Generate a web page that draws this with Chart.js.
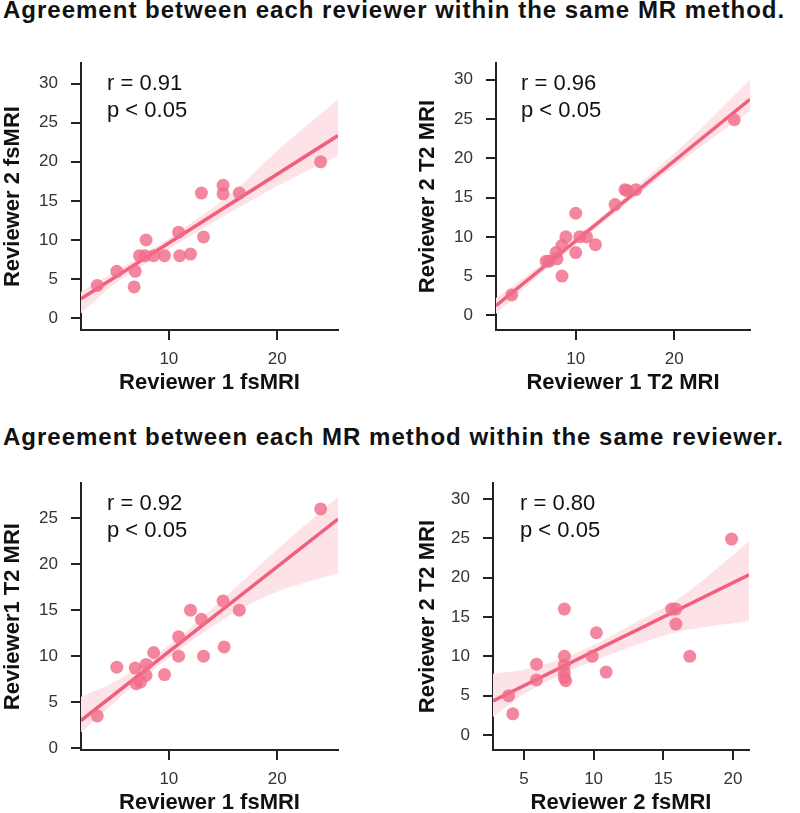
<!DOCTYPE html>
<html>
<head>
<meta charset="utf-8">
<script src="https://cdn.jsdelivr.net/npm/chart.js@4.4.1/dist/chart.umd.min.js"></script>
<style>
  html, body { margin: 0; padding: 0; background: #fff; overflow: hidden; }
  body { width: 800px; height: 813px; position: relative; }
  .title {
    position: absolute; left: 3px; margin: 0;
    font: bold 24px "Liberation Sans", Arial, sans-serif;
    letter-spacing: 1px;
    line-height: 1; color: #111; white-space: nowrap;
  }
  canvas { position: absolute; }
</style>
</head>
<body>
<div class="title" style="top:-2px">Agreement between each reviewer within the same MR method.</div>
<div class="title" style="top:425px">Agreement between each MR method within the same reviewer.</div>
<canvas id="c1" width="400" height="370" style="left:0px;top:40px"></canvas>
<canvas id="c2" width="400" height="370" style="left:400px;top:40px"></canvas>
<canvas id="c3" width="400" height="370" style="left:0px;top:460px"></canvas>
<canvas id="c4" width="400" height="370" style="left:400px;top:460px"></canvas>
<script>
// Panel 1: Reviewer 1 fsMRI vs Reviewer 2 fsMRI
const p1X = [3.4, 5.2, 6.9, 6.8, 7.3, 7.8, 7.9, 8.6, 9.6, 10.9, 11.0, 12.0, 13.0, 13.2, 15.0, 15.0, 16.5, 24.0];
const p1Y = [4.2, 6.0, 6.0, 4.0, 8.0, 8.0, 10.0, 8.0, 8.0, 11.0, 8.0, 8.2, 16.0, 10.4, 17.0, 15.9, 16.0, 20.0];
const fit1X = [1.9, 25.6];
const fit1Y = [2.5, 23.35];
const band1X = [1.9, 5, 9, 12, 16, 20, 25.6];
const band1Lo = [0.6, 4.4, 7.9, 10.5, 13.8, 16.9, 20.8];
const band1Hi = [3.4, 5.9, 9.3, 12.1, 16.2, 21.4, 28.0];

// Panel 2: Reviewer 1 T2 MRI vs Reviewer 2 T2 MRI
const p2X = [3.5, 7.0, 7.3, 8.0, 8.1, 8.6, 8.6, 9.0, 10.0, 10.0, 10.4, 11.1, 12.0, 14.0, 15.0, 15.2, 16.1, 26.1];
const p2Y = [2.6, 6.9, 6.9, 8.0, 7.2, 5.0, 8.9, 10.0, 13.0, 8.0, 10.0, 10.0, 9.0, 14.1, 16.0, 15.9, 16.0, 24.9];
const fit2X = [1.9, 27.7];
const fit2Y = [1.24, 27.5];
const band2X = [1.9, 6, 10, 14, 18, 22, 27.7];
const band2Lo = [0.2, 4.8, 9.0, 13.1, 17.0, 20.8, 26.0];
const band2Hi = [2.2, 6.0, 10.0, 14.0, 18.4, 22.9, 30.0];

// Panel 3: Reviewer 1 fsMRI vs Reviewer1 T2 MRI
const p3X = [3.4, 5.2, 6.9, 7.0, 7.4, 7.9, 7.9, 8.6, 9.6, 10.9, 10.9, 12.0, 13.0, 13.2, 15.0, 15.1, 16.5, 24.0];
const p3Y = [3.5, 8.8, 8.7, 7.0, 7.2, 7.9, 9.1, 10.4, 8.0, 12.1, 10.0, 15.0, 14.0, 10.0, 16.0, 11.0, 15.0, 26.0];
const fit3X = [1.9, 25.6];
const fit3Y = [3.0, 24.9];
const band3X = [1.9, 5, 9, 12, 16, 20, 25.6];
const band3Lo = [1.7, 5.0, 8.9, 11.6, 14.7, 17.0, 19.0];
const band3Hi = [5.6, 7.2, 10.3, 13.1, 17.3, 21.6, 27.3];

// Panel 4: Reviewer 2 fsMRI vs Reviewer 2 T2 MRI
const p4X = [3.9, 4.2, 5.9, 5.9, 7.9, 7.9, 7.9, 7.9, 7.9, 8.0, 9.9, 10.2, 10.9, 15.6, 15.9, 15.9, 16.9, 19.9];
const p4Y = [5.0, 2.7, 9.0, 7.0, 16.0, 10.0, 8.9, 7.9, 7.3, 6.9, 10.0, 13.0, 8.0, 16.0, 16.0, 14.1, 10.0, 24.9];
const fit4X = [2.78, 21.15];
const fit4Y = [4.32, 20.37];
const band4X = [2.78, 5, 8, 10, 13, 16, 21.15];
const band4Lo = [2.3, 5.2, 7.9, 9.4, 11.4, 13.1, 14.5];
const band4Hi = [7.8, 8.3, 9.9, 11.4, 14.3, 17.2, 24.6];

// tick labels
const ticks30 = [0, 5, 10, 15, 20, 25, 30];
const ticks25 = [0, 5, 10, 15, 20, 25];
const ticks1020 = [10, 20];
const ticks5to20 = [5, 10, 15, 20];

const pointColor = 'rgba(240, 108, 138, 0.82)';
const lineColor = '#f0607c';
const bandColor = '#fde2e7';
const axisColor = '#222';
const font = '"Liberation Sans", Arial, sans-serif';

const zip = (xs, ys) => xs.map((x, i) => ({ x: x, y: ys[i] }));

const statText = {
  id: 'statText',
  afterDraw(chart, args, opts) {
    const { ctx, chartArea } = chart;
    ctx.save();
    ctx.font = '22px ' + font;
    ctx.fillStyle = '#111';
    ctx.textBaseline = 'middle';
    opts.lines.forEach((t, i) => {
      ctx.fillText(t, chartArea.left + opts.dx, chartArea.top + 21 + i * 27);
    });
    ctx.restore();
  }
};

function makeAxis(title, min, max, tickValues, isY, boxSize) {
  return {
    type: 'linear',
    min: min,
    max: max,
    afterBuildTicks: (scale) => { scale.ticks = tickValues.map(v => ({ value: v })); },
    afterFit: (scale) => { if (isY) scale.width = boxSize; else scale.height = boxSize; },
    border: { display: true, color: axisColor, width: 2 },
    grid: { display: true, drawOnChartArea: false, drawTicks: true, tickLength: 10, color: axisColor, lineWidth: 2 },
    ticks: {
      color: '#333',
      font: { family: font, size: 17 },
      padding: isY ? 13 : 9,
      maxRotation: 0
    },
    title: {
      display: true,
      text: title,
      color: '#111',
      font: { family: font, size: 22, weight: 'bold' },
      padding: isY ? { top: 0, bottom: 0 } : { top: 0, bottom: 14 }
    }
  };
}

function makePanel(canvasId, p) {
  const ctx = document.getElementById(canvasId).getContext('2d');
  new Chart(ctx, {
    type: 'scatter',
    data: {
      datasets: [
        // lower order is drawn on top
        { type: 'line', order: 4, data: zip(p.bandX, p.bandLo), borderWidth: 0, pointRadius: 0, fill: false, cubicInterpolationMode: 'monotone' },
        { type: 'line', order: 3, data: zip(p.bandX, p.bandHi), borderWidth: 0, pointRadius: 0, fill: '-1', backgroundColor: bandColor, cubicInterpolationMode: 'monotone' },
        { type: 'line', order: 2, data: zip(p.fitX, p.fitY), borderColor: lineColor, borderWidth: 3.5, pointRadius: 0, fill: false },
        { type: 'scatter', order: 1, data: zip(p.xs, p.ys), backgroundColor: pointColor, borderWidth: 0, pointRadius: 6.5 }
      ]
    },
    options: {
      responsive: false,
      animation: false,
      events: [],
      layout: { padding: { left: p.padLeft, right: p.padRight, top: 17, bottom: 0 } },
      plugins: {
        legend: { display: false },
        tooltip: { enabled: false },
        statText: { lines: p.stats, dx: p.statDx }
      },
      scales: {
        x: makeAxis(p.xTitle, p.xMin, p.xMax, p.xTicks, false, 80),
        y: makeAxis(p.yTitle, p.yMin, p.yMax, p.yTicks, true, p.yWidth)
      }
    },
    plugins: [statText]
  });
}

makePanel('c1', {
  xs: p1X, ys: p1Y, fitX: fit1X, fitY: fit1Y, bandX: band1X, bandLo: band1Lo, bandHi: band1Hi,
  xTitle: 'Reviewer 1 fsMRI', yTitle: 'Reviewer 2 fsMRI',
  xMin: 1.9, xMax: 25.6, yMin: -1.5, yMax: 32.6, xTicks: ticks1020, yTicks: ticks30,
  padLeft: 0, padRight: 62, yWidth: 81, stats: ['r = 0.91', 'p < 0.05'], statDx: 26
});
makePanel('c2', {
  xs: p2X, ys: p2Y, fitX: fit2X, fitY: fit2Y, bandX: band2X, bandLo: band2Lo, bandHi: band2Hi,
  xTitle: 'Reviewer 1 T2 MRI', yTitle: 'Reviewer 2 T2 MRI',
  xMin: 1.9, xMax: 27.7, yMin: -1.86, yMax: 32.1, xTicks: ticks1020, yTicks: ticks30,
  padLeft: 15, padRight: 50, yWidth: 81, stats: ['r = 0.96', 'p < 0.05'], statDx: 25
});
makePanel('c3', {
  xs: p3X, ys: p3Y, fitX: fit3X, fitY: fit3Y, bandX: band3X, bandLo: band3Lo, bandHi: band3Hi,
  xTitle: 'Reviewer 1 fsMRI', yTitle: 'Reviewer1 T2 MRI',
  xMin: 1.9, xMax: 25.6, yMin: -0.2, yMax: 28.8, xTicks: ticks1020, yTicks: ticks25,
  padLeft: 0, padRight: 62, yWidth: 81, stats: ['r = 0.92', 'p < 0.05'], statDx: 26
});
makePanel('c4', {
  xs: p4X, ys: p4Y, fitX: fit4X, fitY: fit4Y, bandX: band4X, bandLo: band4Lo, bandHi: band4Hi,
  xTitle: 'Reviewer 2 fsMRI', yTitle: 'Reviewer 2 T2 MRI',
  xMin: 2.78, xMax: 21.15, yMin: -1.9, yMax: 32.0, xTicks: ticks5to20, yTicks: ticks30,
  padLeft: 15, padRight: 51, yWidth: 78, stats: ['r = 0.80', 'p < 0.05'], statDx: 27
});
</script>
</body>
</html>
